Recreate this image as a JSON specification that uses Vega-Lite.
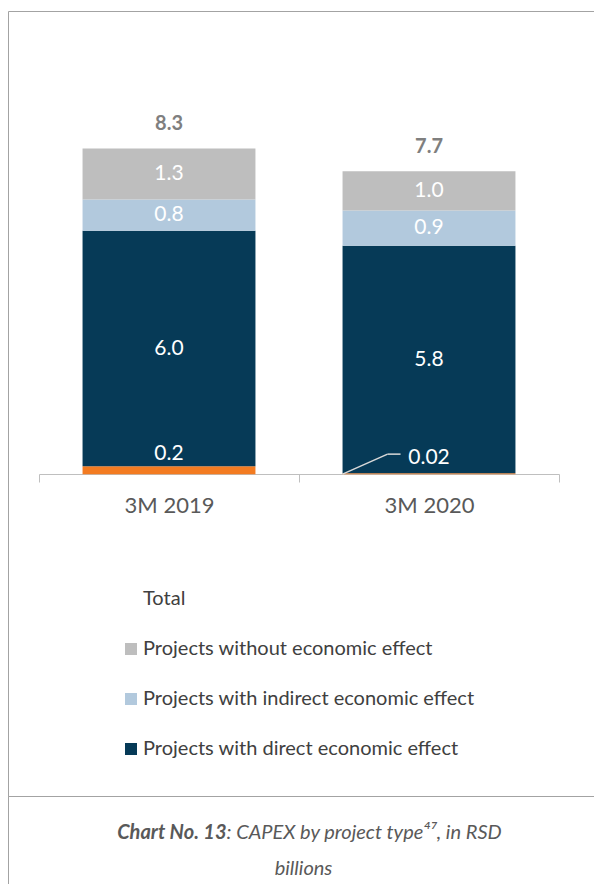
{
  "$schema": "https://vega.github.io/schema/vega-lite/v6.json",
  "padding": {"left": 7, "top": 10, "right": 0, "bottom": 0},
  "spacing": 0,
  "bounds": "flush",
  "background": "white",
  "config": {"view": {"stroke": "#A3A3A3", "strokeWidth": 1}, "font": "Lato"},
  "vconcat": [
    {
      "width": 587,
      "height": 785,
      "data": {"values": [
        {"period": "3M 2019", "type": "Other", "value": 0.2, "order": 0},
        {"period": "3M 2019", "type": "Projects with direct economic effect", "value": 6.0, "order": 1},
        {"period": "3M 2019", "type": "Projects with indirect economic effect", "value": 0.8, "order": 2},
        {"period": "3M 2019", "type": "Projects without economic effect", "value": 1.3, "order": 3},
        {"period": "3M 2020", "type": "Other", "value": 0.02, "order": 0},
        {"period": "3M 2020", "type": "Projects with direct economic effect", "value": 5.8, "order": 1},
        {"period": "3M 2020", "type": "Projects with indirect economic effect", "value": 0.9, "order": 2},
        {"period": "3M 2020", "type": "Projects without economic effect", "value": 1.0, "order": 3}
      ]},
      "transform": [
        {"stack": "value", "groupby": ["period"], "sort": [{"field": "order"}], "as": ["v0", "v1"]},
        {"calculate": "(datum.v0 + datum.v1) / 2", "as": "mid"}
      ],
      "encoding": {
        "x": {
          "field": "period", "type": "nominal",
          "scale": {"type": "band", "range": [31, 551], "paddingInner": 0, "paddingOuter": 0},
          "axis": {
            "title": null, "labelAngle": 0, "labelFontSize": 22, "labelColor": "#595959",
            "domainColor": "#BFBFBF", "tickColor": "#BFBFBF", "tickSize": 8, "tickBand": "extent",
            "labelPadding": 13, "offset": -322, "grid": false
          }
        }
      },
      "layer": [
        {
          "mark": {"type": "bar", "width": {"band": 0.665}},
          "encoding": {
            "y": {"field": "v1", "type": "quantitative", "scale": {"domain": [-8.2, 11.8], "nice": false, "zero": false}, "axis": null},
            "y2": {"field": "v0"},
            "color": {
              "field": "type", "type": "nominal",
              "scale": {
                "domain": ["Total", "Projects without economic effect", "Projects with indirect economic effect", "Projects with direct economic effect", "Other"],
                "range": ["#FFFFFF", "#BEBEBE", "#B2C9DD", "#063A57", "#F37B21"]
              },
              "legend": {
                "values": ["Total", "Projects without economic effect", "Projects with indirect economic effect", "Projects with direct economic effect"],
                "title": null, "orient": "none", "legendX": 113, "legendY": 578,
                "symbolType": "square", "symbolSize": 144, "symbolStrokeWidth": 0,
                "labelFontSize": 20, "labelColor": "#404040", "rowPadding": 30, "labelOffset": 2, "padding": 0,
                "labelLimit": 500
              }
            }
          }
        },
        {
          "transform": [{"filter": "datum.type != 'Other'"}],
          "mark": {"type": "text", "color": "white", "fontSize": 21, "baseline": "middle"},
          "encoding": {
            "y": {"field": "mid", "type": "quantitative", "axis": null},
            "text": {"field": "value", "type": "quantitative", "format": ".1f"}
          }
        },
        {
          "transform": [{"filter": "datum.type == 'Other'"}],
          "mark": {"type": "text", "color": "white", "fontSize": 21, "baseline": "middle", "dy": -16},
          "encoding": {
            "y": {"field": "mid", "type": "quantitative", "axis": null},
            "text": {"field": "value", "type": "quantitative", "format": ".2~f"}
          }
        },
        {
          "transform": [{"aggregate": [{"op": "sum", "field": "value", "as": "total"}], "groupby": ["period"]}],
          "mark": {"type": "text", "color": "#7F7F7F", "fontSize": 20, "fontWeight": "bold", "baseline": "middle", "dy": -24},
          "encoding": {
            "y": {"field": "total", "type": "quantitative", "axis": null},
            "text": {"field": "total", "type": "quantitative", "format": ".1f"}
          }
        },
        {
          "transform": [{"filter": "datum.type == 'Other' && datum.period == '3M 2020'"}],
          "mark": {"type": "rule", "color": "#D9D9D9", "strokeWidth": 1.5, "x2Offset": 45},
          "encoding": {
            "x": {"field": "period", "type": "nominal", "bandPosition": 0.1675},
            "x2": {"field": "period", "bandPosition": 0.1675},
            "y": {"datum": 0, "type": "quantitative"},
            "y2": {"datum": 0.51}
          }
        },
        {
          "transform": [{"filter": "datum.type == 'Other' && datum.period == '3M 2020'"}],
          "mark": {"type": "rule", "color": "#D9D9D9", "strokeWidth": 1.5, "xOffset": 45, "x2Offset": 58},
          "encoding": {
            "x": {"field": "period", "type": "nominal", "bandPosition": 0.1675},
            "x2": {"field": "period", "bandPosition": 0.1675},
            "y": {"datum": 0.51, "type": "quantitative"}
          }
        }
      ]
    },
    {
      "width": 587,
      "height": 110,
      "data": {"values": [
        {"line": 1, "part": "b", "t": "Chart No. 13"},
        {"line": 1, "part": "r", "t": ": CAPEX by project type⁴⁷, in RSD"},
        {"line": 2, "part": "c", "t": "billions"}
      ]},
      "encoding": {
        "y": {"field": "line", "type": "ordinal", "axis": null, "scale": {"type": "point", "padding": 1.1667}},
        "text": {"field": "t", "type": "nominal"}
      },
      "layer": [
        {"transform": [{"filter": "datum.part == 'b'"}], "mark": {"type": "text", "align": "right", "dx": -75, "fontWeight": "bold", "fontStyle": "italic", "fontSize": 20, "color": "#595959", "baseline": "middle"}},
        {"transform": [{"filter": "datum.part == 'r'"}], "mark": {"type": "text", "align": "left", "dx": -75, "fontStyle": "italic", "fontSize": 20, "color": "#595959", "baseline": "middle"}},
        {"transform": [{"filter": "datum.part == 'c'"}], "mark": {"type": "text", "align": "center", "dx": 2, "fontStyle": "italic", "fontSize": 20, "color": "#595959", "baseline": "middle"}}
      ]
    }
  ]
}
